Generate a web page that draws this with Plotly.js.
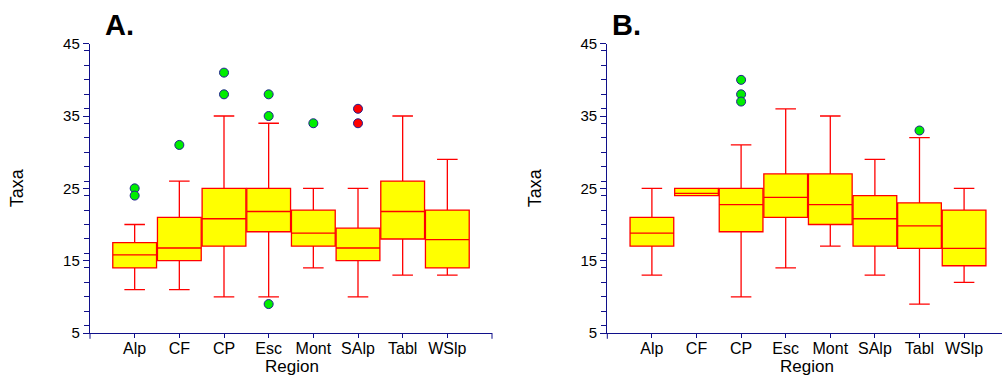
<!DOCTYPE html>
<html>
<head>
<meta charset="utf-8">
<script src="https://cdn.plot.ly/plotly-3.0.1.min.js"></script>
<style>html,body{margin:0;padding:0;background:#fff;}#chart{width:1002px;height:378px;}</style>
</head>
<body>
<div id="chart"></div>
<script>
const categories = ['Alp','CF','CP','Esc','Mont','SAlp','Tabl','WSlp'];

// Panel A
const A_q1     = [14, 15, 17, 19, 17, 15, 18, 14];
const A_median = [15.8, 16.75, 20.8, 21.8, 18.8, 16.75, 21.8, 17.9];
const A_q3     = [17.5, 21, 25, 25, 22, 19.5, 26, 22];
const A_lower  = [11, 11, 10, 10, 14, 10, 13, 13];
const A_upper  = [20, 26, 35, 34, 25, 25, 35, 29];
const A_outX   = ['Alp','Alp','CF','CP','CP','Esc','Esc','Esc','Mont'];
const A_outY   = [25, 24, 31, 41, 38, 38, 35, 9, 34];
const A_redX   = ['SAlp','SAlp'];
const A_redY   = [36, 34];

// Panel B
const B_q1     = [17, 24, 19, 21, 20, 17, 16.7, 14.3];
const B_median = [18.8, 24.3, 22.75, 23.75, 22.75, 20.8, 19.8, 16.7];
const B_q3     = [21, 25, 25, 27, 27, 24, 23, 22];
const B_lower  = [13, 24, 10, 14, 17, 13, 9, 12];
const B_upper  = [25, 25, 31, 36, 35, 29, 32, 25];
const B_outX   = ['CP','CP','CP','Tabl'];
const B_outY   = [40, 38, 37, 33];

const yTicks = [5, 15, 25, 35, 45];
const xTitle = 'Region';
const yTitle = 'Taxa';

const NAVY = '#10108a';
const boxStyle = {
  type: 'box', fillcolor: '#ffff00',
  line: {color: '#ff0000', width: 1.3},
  width: 0.98,
  whiskerwidth: 0.47, boxpoints: false, hoverinfo: 'skip', showlegend: false
};
function boxTrace(q1, med, q3, lo, hi, xa, ya) {
  return Object.assign({}, boxStyle, {
    x: categories, q1: q1, median: med, q3: q3, lowerfence: lo, upperfence: hi,
    xaxis: xa, yaxis: ya
  });
}
function pts(x, y, color, xa, ya) {
  return {type: 'scatter', mode: 'markers', x: x, y: y, xaxis: xa, yaxis: ya,
    marker: {color: color, size: 9, line: {color: '#202090', width: 1}},
    showlegend: false, hoverinfo: 'skip'};
}

const data = [
  boxTrace(A_q1, A_median, A_q3, A_lower, A_upper, 'x', 'y'),
  pts(A_outX, A_outY, '#00ee00', 'x', 'y'),
  pts(A_redX, A_redY, '#ff0000', 'x', 'y'),
  boxTrace(B_q1, B_median, B_q3, B_lower, B_upper, 'x2', 'y2'),
  pts(B_outX, B_outY, '#00ee00', 'x2', 'y2')
];

const font = {family: 'Liberation Sans, Arial, sans-serif', color: '#000'};
function xAxis(domain, range, anchor) {
  return {
    domain: domain, anchor: anchor, type: 'category', categoryorder: 'array', categoryarray: categories,
    range: range, showline: true, linecolor: NAVY, linewidth: 1.2,
    ticks: 'outside', ticklen: 4, tickcolor: NAVY, tickwidth: 1,
    ticklabelstandoff: -3,
    showgrid: false, zeroline: false,
    tickfont: Object.assign({}, font, {size: 16})
  };
}
function yAxis(anchor) {
  return {
    domain: [45/378, 334.3/378], anchor: anchor, range: [5, 45],
    tickmode: 'array', tickvals: yTicks,
    showline: true, linecolor: NAVY, linewidth: 1.2,
    ticks: 'outside', ticklen: 6, tickcolor: NAVY, tickwidth: 1,
    minor: {dtick: 2, ticks: 'outside', ticklen: 5, tickcolor: NAVY, tickwidth: 1, showgrid: false},
    showgrid: false, zeroline: false,
    tickfont: Object.assign({}, font, {size: 15}),
    title: {text: yTitle, font: Object.assign({}, font, {size: 18}), standoff: 34}
  };
}

const layout = {
  width: 1002, height: 378,
  margin: {l: 0, r: 0, t: 0, b: 0},
  paper_bgcolor: '#fff', plot_bgcolor: '#fff',
  boxgap: 0.02,
  font: font,
  xaxis: xAxis([90/1002, 492/1002], [-1, 8], 'y'),
  yaxis: yAxis('x'),
  xaxis2: xAxis([607.3/1002, 1], [-1, 7.85], 'y2'),
  yaxis2: yAxis('x2'),
  annotations: [
    {text: '<b>A.</b>', xref: 'paper', yref: 'paper', x: 103/1002, y: 1 - 25/378,
     xanchor: 'left', yanchor: 'middle', showarrow: false, font: Object.assign({}, font, {size: 29})},
    {text: '<b>B.</b>', xref: 'paper', yref: 'paper', x: 610/1002, y: 1 - 25/378,
     xanchor: 'left', yanchor: 'middle', showarrow: false, font: Object.assign({}, font, {size: 29})},
    {text: xTitle, xref: 'paper', yref: 'paper', x: 291.5/1002, y: 0,
     xanchor: 'center', yanchor: 'bottom', showarrow: false, font: Object.assign({}, font, {size: 17})},
    {text: xTitle, xref: 'paper', yref: 'paper', x: 807/1002, y: 0,
     xanchor: 'center', yanchor: 'bottom', showarrow: false, font: Object.assign({}, font, {size: 17})}
  ],
  shapes: [
    {type: 'line', xref: 'x domain', yref: 'y domain', x0: 0, x1: 0, y0: 0, y1: -0.02, line: {color: NAVY, width: 1}},
    {type: 'line', xref: 'x domain', yref: 'y domain', x0: 1, x1: 1, y0: 0, y1: -0.02, line: {color: NAVY, width: 1}},
    {type: 'line', xref: 'x2 domain', yref: 'y2 domain', x0: 0, x1: 0, y0: 0, y1: -0.02, line: {color: NAVY, width: 1}}
  ]
};

Plotly.newPlot('chart', data, layout, {displayModeBar: false, staticPlot: true});
</script>
</body>
</html>
